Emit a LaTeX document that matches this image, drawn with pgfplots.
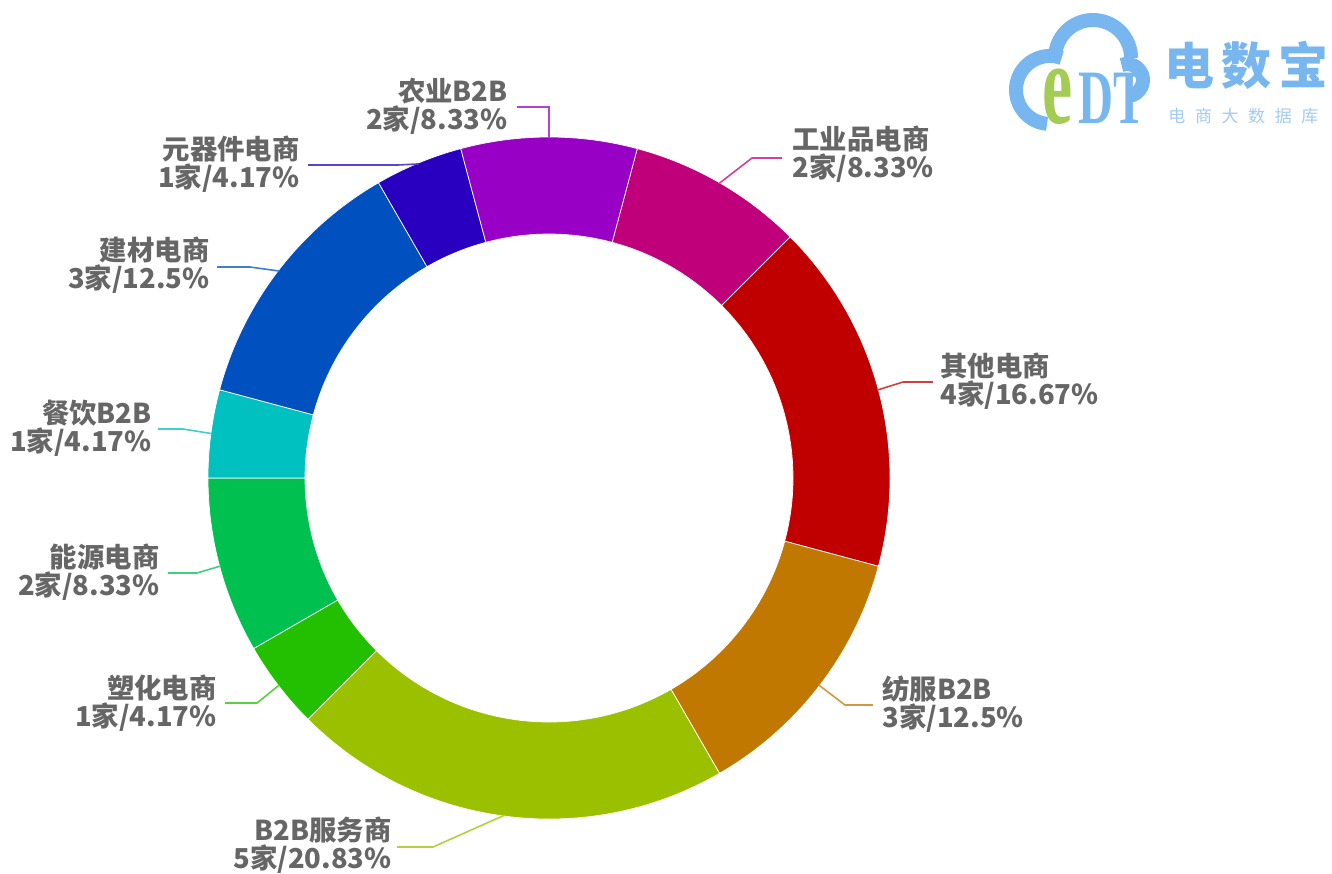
\documentclass[border=0pt]{standalone}
\usepackage{pgfplots}
\pgfplotsset{compat=1.18}
\usepackage{pgfplotstable}
\usepackage{fontspec}
\setmainfont{Noto Sans CJK SC}
\newfontfamily\logoserif{Liberation Serif}

\definecolor{cInd}{HTML}{C0007A}
\definecolor{cOth}{HTML}{C00000}
\definecolor{cTex}{HTML}{C07800}
\definecolor{cSvc}{HTML}{9BC000}
\definecolor{cPla}{HTML}{22C000}
\definecolor{cEne}{HTML}{00C050}
\definecolor{cFood}{HTML}{00C0C0}
\definecolor{cBld}{HTML}{0050C0}
\definecolor{cEle}{HTML}{2A00C0}
\definecolor{cAgr}{HTML}{9900C6}
\definecolor{labelgray}{HTML}{666666}
\definecolor{logoblue}{HTML}{78B6EF}
\definecolor{logolight}{HTML}{A2CBF2}
\definecolor{logogreen}{HTML}{A4CC55}

% segments clockwise, starting 15 deg right of 12 o'clock
% ex,ey: elbow of leader; hx,hy: end of leader; tx,ty: label anchor; side 1 = right
\pgfplotstableread[col sep=comma]{
name,count,col,ex,ey,hx,hy,tx,ty,side
工业品电商,2,cInd,752,158,782,158,792,154,1
其他电商,4,cOth,903,382,933,382,940,381,1
纺服B2B,3,cTex,845,705,873,705,882,704,1
B2B服务商,5,cSvc,433,847,397,847,392,845,0
塑化电商,1,cPla,257,703,225,703,217,703,0
能源电商,2,cEne,197,573,168,573,160,572,0
餐饮B2B,1,cFood,183,429,158,429,152,428,0
建材电商,3,cBld,250,267,217,267,210,265,0
元器件电商,1,cEle,398,165,308,165,300,164,0
农业B2B,2,cAgr,549,107,517,107,508,106,0
}\ringdata

\def\cx{549}
\def\cy{478}
\def\Ro{341}
\def\Ri{244}
\def\startang{15}

\begin{document}
\begin{tikzpicture}
\begin{axis}[
  scale only axis, width=666pt, height=435.5pt,
  xmin=0, xmax=1332, ymin=0, ymax=871, y dir=reverse,
  enlargelimits=false, hide axis, clip=false]
\path (axis cs:0,0) rectangle (axis cs:1332,871);
\pgfplotsextra{%
  \pgfplotstablegetrowsof{\ringdata}%
  \pgfmathtruncatemacro\lastrow{\pgfplotsretval-1}%
  \gdef\total{0}%
  \foreach \i in {0,...,\lastrow}{%
    \pgfplotstablegetelem{\i}{count}\of{\ringdata}%
    \pgfmathsetmacro\tmp{\total+\pgfplotsretval}\xdef\total{\tmp}}%
  \gdef\cum{0}%
  \foreach \i in {0,...,\lastrow}{%
    \pgfplotstablegetelem{\i}{count}\of{\ringdata}\let\cnt\pgfplotsretval
    \pgfplotstablegetelem{\i}{col}\of{\ringdata}\let\segcol\pgfplotsretval
    \pgfplotstablegetelem{\i}{name}\of{\ringdata}\let\nm\pgfplotsretval
    \pgfplotstablegetelem{\i}{ex}\of{\ringdata}\let\lex\pgfplotsretval
    \pgfplotstablegetelem{\i}{ey}\of{\ringdata}\let\ley\pgfplotsretval
    \pgfplotstablegetelem{\i}{hx}\of{\ringdata}\let\lhx\pgfplotsretval
    \pgfplotstablegetelem{\i}{hy}\of{\ringdata}\let\lhy\pgfplotsretval
    \pgfplotstablegetelem{\i}{tx}\of{\ringdata}\let\ltx\pgfplotsretval
    \pgfplotstablegetelem{\i}{ty}\of{\ringdata}\let\lty\pgfplotsretval
    \pgfplotstablegetelem{\i}{side}\of{\ringdata}\let\lside\pgfplotsretval
    \pgfmathsetmacro\aA{\startang+360*\cum/\total}%
    \pgfmathsetmacro\aB{\startang+360*(\cum+\cnt)/\total}%
    \pgfmathsetmacro\aM{(\aA+\aB)/2}%
    \pgfmathsetmacro\pct{100*\cnt/\total}%
    \pgfmathsetmacro\pAx{\cx+\Ro*sin(\aA)}\pgfmathsetmacro\pAy{\cy-\Ro*cos(\aA)}%
    \pgfmathsetmacro\pBx{\cx+\Ri*sin(\aB)}\pgfmathsetmacro\pBy{\cy-\Ri*cos(\aB)}%
    \pgfmathsetmacro\mx{\cx+(\Ro-1)*sin(\aM)}\pgfmathsetmacro\my{\cy-(\Ro-1)*cos(\aM)}%
    \fill[fill=\segcol, draw=white, line width=0.35pt]
      (axis cs:\pAx,\pAy) arc[start angle={90-\aA}, end angle={90-\aB}, radius=\Ro*0.5pt]
      -- (axis cs:\pBx,\pBy) arc[start angle={90-\aB}, end angle={90-\aA}, radius=\Ri*0.5pt]
      -- cycle;
    \draw[color=\segcol!75!white, line width=0.8pt]
      (axis cs:\mx,\my) -- (axis cs:\lex,\ley) -- (axis cs:\lhx,\lhy);
    \ifnum\lside=1
      \node[anchor=west, align=left, inner sep=0pt, text=labelgray,
        font=\bfseries\fontsize{13.7}{14}\selectfont] at (axis cs:\ltx,\lty)
        {\nm\\{\cnt}家/\pgfmathprintnumber[fixed,precision=2,assume math mode=true]{\pct}\%};
    \else
      \node[anchor=east, align=right, inner sep=0pt, text=labelgray,
        font=\bfseries\fontsize{13.7}{14}\selectfont] at (axis cs:\ltx,\lty)
        {\nm\\{\cnt}家/\pgfmathprintnumber[fixed,precision=2,assume math mode=true]{\pct}\%};
    \fi
    \pgfmathsetmacro\tmp{\cum+\cnt}\xdef\cum{\tmp}%
  }%
}
% logo
\draw[logoblue, line width=7pt] (axis cs:1061.6,58) arc[start angle=70, end angle=265, radius=17pt];
\draw[logoblue, line width=7pt] (axis cs:1055.6,51.4) arc[start angle=170, end angle=0, radius=19pt];
\draw[logoblue, line width=7pt] (axis cs:1121.5,65) arc[start angle=110, end angle=-80, radius=8pt];
\node[anchor=base west, inner sep=0pt, xscale=0.85, yscale=1.45, text=logogreen,
  font=\logoserif\bfseries\fontsize{40}{40}\selectfont]
  at (axis cs:1042,123) {e};
\node[anchor=base west, inner sep=0pt, xscale=0.63, text=logoblue,
  font=\logoserif\bfseries\fontsize{38.5}{38.5}\selectfont]
  at (axis cs:1078,123) {DT};
\node[anchor=west, inner sep=0pt, text=logoblue, font=\bfseries\fontsize{25}{25}\selectfont]
  at (axis cs:1164,65) {电\hspace{3.5pt}数\hspace{3.5pt}宝};
\node[anchor=west, inner sep=0pt, text=logolight, font=\fontsize{8.5}{8.5}\selectfont]
  at (axis cs:1168,116) {电\hspace{4.8pt}商\hspace{4.8pt}大\hspace{4.8pt}数\hspace{4.8pt}据\hspace{4.8pt}库};
\end{axis}
\end{tikzpicture}
\end{document}
